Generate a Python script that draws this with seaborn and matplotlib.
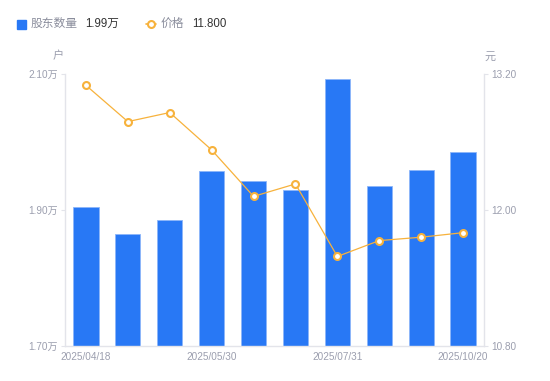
import numpy as np
import matplotlib
matplotlib.use("Agg")
import matplotlib.pyplot as plt
import seaborn as sns
import pandas as pd
from matplotlib.lines import Line2D
from matplotlib.patches import Rectangle

# data
dates = ["2025/04/18", "2025/04/30", "2025/05/20", "2025/05/30", "2025/06/20",
         "2025/06/30", "2025/07/31", "2025/08/20", "2025/09/30", "2025/10/20"]
holders = [1.904, 1.865, 1.885, 1.958, 1.943, 1.929, 2.092, 1.936, 1.959, 1.986]  # 万户
prices = [13.10, 12.78, 12.86, 12.53, 12.12, 12.23, 11.59, 11.73, 11.76, 11.80]
shown_ticks = [0, 3, 6, 9]

bar_color = "#2878f5"
line_color = "#f7b23c"
label_color = "#9b9eae"
axis_color = "#e3e4ea"

sns.set_theme(style="white")
plt.rcParams['font.family'] = ['Liberation Sans', 'Noto Sans CJK SC', 'DejaVu Sans']

df = pd.DataFrame({"date": dates, "holders": holders, "price": prices, "pos": np.arange(len(dates))})

fig = plt.figure(figsize=(5.5, 3.81), dpi=100)
ax = fig.add_axes([65 / 550, 35 / 381, 419 / 550, 272 / 381])

sns.barplot(data=df, x="date", y="holders", color=bar_color, saturation=1,
            width=0.6, edgecolor="#8db6fa", linewidth=0.6, ax=ax)
ax.set_ylim(1.70, 2.10)
ax.set_yticks([1.70, 1.90, 2.10])
ax.set_yticklabels(["1.70万", "1.90万", "2.10万"])
ax.set_xlim(-0.5, len(dates) - 0.5)
ax.set_xticks(shown_ticks)
ax.set_xticklabels([dates[i] for i in shown_ticks])
ax.set_xlabel("")
ax.set_ylabel("")

ax2 = ax.twinx()
sns.lineplot(data=df, x="pos", y="price", color=line_color, linewidth=0.9,
             marker="o", markersize=5, markerfacecolor="white",
             markeredgecolor=line_color, markeredgewidth=1.5, ax=ax2)
ax2.set_ylim(10.80, 13.20)
ax2.set_yticks([10.80, 12.00, 13.20])
ax2.set_yticklabels(["10.80", "12.00", "13.20"])
ax2.set_xlim(-0.5, len(dates) - 0.5)
ax2.set_ylabel("")
ax2.set_xlabel("")

for a in (ax, ax2):
    for s in a.spines.values():
        s.set_visible(False)
    a.grid(False)

ax.spines["left"].set_visible(True)
ax.spines["bottom"].set_visible(True)
ax2.spines["right"].set_visible(True)
for s in (ax.spines["left"], ax.spines["bottom"], ax2.spines["right"]):
    s.set_color(axis_color)
    s.set_linewidth(1)

ax.tick_params(axis="y", length=3, width=0.8, color=axis_color, labelsize=7.2,
               labelcolor=label_color, pad=2, left=True)
ax.tick_params(axis="x", length=0, labelsize=7.2, labelcolor=label_color, pad=4)
ax2.tick_params(axis="y", length=3, width=0.8, color=axis_color, labelsize=7.2,
                labelcolor=label_color, pad=2, right=True)

# unit labels
fig.text(58 / 550, 1 - 56 / 381, "户", fontsize=8, color=label_color, ha="center", va="center")
fig.text(490 / 550, 1 - 57 / 381, "元", fontsize=8, color=label_color, ha="center", va="center")

# legend row
fig.patches.append(Rectangle((17 / 550, 1 - 29 / 381), 9 / 550, 9 / 381,
                             transform=fig.transFigure, color=bar_color, figure=fig))
fig.text(31 / 550, 1 - 24 / 381, "股东数量", fontsize=8.5, color="#8a8d9c", va="center")
fig.text(85 / 550, 1 - 24 / 381, "1.99万", fontsize=8.3, color="#333333", va="center")
fig.lines.append(Line2D([146 / 550, 156 / 550], [1 - 24 / 381, 1 - 24 / 381],
                        transform=fig.transFigure, color=line_color, linewidth=1.2))
fig.lines.append(Line2D([151 / 550], [1 - 24 / 381], transform=fig.transFigure,
                        color=line_color, marker="o", markersize=5,
                        markerfacecolor="white", markeredgewidth=1.5))
fig.text(161 / 550, 1 - 24 / 381, "价格", fontsize=8.5, color="#8a8d9c", va="center")
fig.text(192 / 550, 1 - 24 / 381, "11.800", fontsize=8.3, color="#333333", va="center")

fig.savefig("out.png", dpi=100)
